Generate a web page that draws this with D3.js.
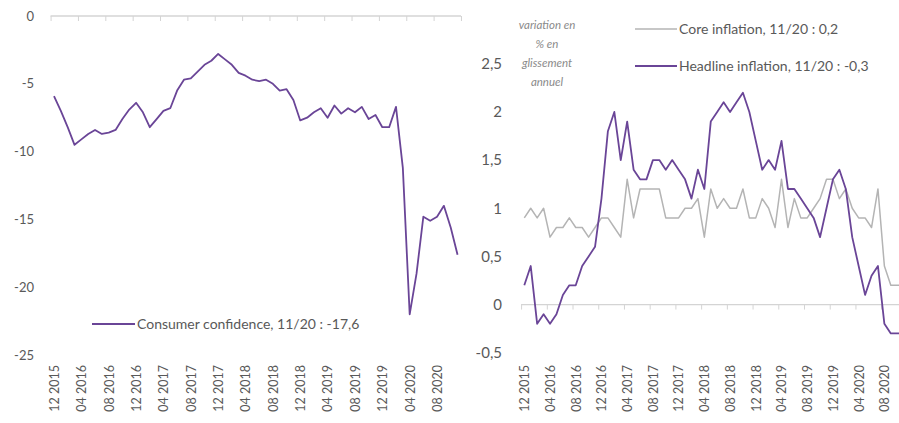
<!DOCTYPE html>
<html><head><meta charset="utf-8">
<script src="https://cdn.jsdelivr.net/npm/d3@7"></script>
<style>
html,body{margin:0;padding:0;background:#fff;}
svg{display:block;font-family:Lato,"Open Sans",sans-serif;}
</style></head>
<body><svg id="c" width="899" height="423"></svg>
<script>
// ---- data ----
const tickLabels = ["12 2015","04 2016","08 2016","12 2016","04 2017","08 2017","12 2017","04 2018","08 2018","12 2018","04 2019","08 2019","12 2019","04 2020","08 2020"];
const confidence = [-5.9,-7.0,-8.2,-9.5,-9.1,-8.7,-8.4,-8.7,-8.6,-8.4,-7.6,-6.9,
  -6.4,-7.1,-8.2,-7.6,-7.0,-6.8,-5.5,-4.7,-4.6,-4.1,-3.6,-3.3,
  -2.8,-3.2,-3.6,-4.2,-4.4,-4.7,-4.8,-4.7,-5.0,-5.5,-5.4,-6.2,
  -7.7,-7.5,-7.1,-6.8,-7.5,-6.6,-7.2,-6.8,-7.1,-6.7,-7.6,-7.3,
  -8.2,-8.2,-6.7,-11.2,-22.0,-19.0,-14.8,-15.1,-14.8,-14.0,-15.6,-17.6];
const headline = [0.2,0.4,-0.2,-0.1,-0.2,-0.1,0.1,0.2,0.2,0.4,0.5,0.6,
  1.1,1.8,2.0,1.5,1.9,1.4,1.3,1.3,1.5,1.5,1.4,1.5,
  1.4,1.3,1.1,1.4,1.2,1.9,2.0,2.1,2.0,2.1,2.2,2.0,
  1.7,1.4,1.5,1.4,1.7,1.2,1.2,1.1,1.0,0.9,0.7,1.0,
  1.3,1.4,1.2,0.7,0.4,0.1,0.3,0.4,-0.2,-0.3,-0.3,-0.3];
const core = [0.9,1.0,0.9,1.0,0.7,0.8,0.8,0.9,0.8,0.8,0.7,0.8,
  0.9,0.9,0.8,0.7,1.3,0.9,1.2,1.2,1.2,1.2,0.9,0.9,
  0.9,1.0,1.0,1.1,0.7,1.2,1.0,1.1,1.0,1.0,1.2,0.9,
  0.9,1.1,1.0,0.8,1.3,0.8,1.1,0.9,0.9,1.0,1.1,1.3,
  1.3,1.1,1.2,1.0,0.9,0.9,0.8,1.2,0.4,0.2,0.2,0.2];
const leftTicks = [0,-5,-10,-15,-20,-25];
const rightTicks = [2.5,2,1.5,1,0.5,0,-0.5];
const legendLeft = "Consumer confidence, 11/20 : -17,6";
const legendCore = "Core inflation, 11/20 : 0,2";
const legendHead = "Headline inflation, 11/20 : -0,3";
const noteLines = ["variation en","% en","glissement","annuel"];

// ---- styles ----
const PURPLE = "#6a4597", GREY_LINE = "#b4b4b4", AXIS = "#d4d4d4", TXT = "#595959";
const loc = d3.formatLocale({decimal:",",thousands:" ",grouping:[3],currency:["","€"],minus:"-"});
const fmt = v => loc.format("")(v);

const svg = d3.select("#c");
const catTicks = d3.range(0,60,4);

function drawChart(opts){
  const {x, y, yTicks, yLabelX, yFont, series} = opts;
  const g = svg.append("g");
  const ya = g.append("g").attr("transform",`translate(${yLabelX},0)`)
    .call(d3.axisLeft(y).tickValues(yTicks).tickSize(0).tickPadding(0).tickFormat(fmt));
  ya.select(".domain").remove();
  ya.selectAll("text").attr("fill",TXT).style("font-size",yFont+"px").style("font-family","Lato,sans-serif");
  const xa = g.append("g").attr("transform",`translate(0,${y(0)})`)
    .call(d3.axisBottom(x).tickValues(d3.range(-0.5,60,4).concat([59.5])).tickSize(5).tickSizeOuter(0).tickFormat(""));
  xa.select(".domain").attr("stroke",AXIS).attr("stroke-width",1.3).attr("d",`M${x(-0.5)},0H${x(59.5)}`);
  xa.selectAll(".tick line").attr("stroke",AXIS).attr("stroke-width",1);
  const la = g.append("g").attr("transform",`translate(0,365)`)
    .call(d3.axisBottom(x).tickValues(catTicks).tickSize(0).tickFormat(i=>tickLabels[i/4]));
  la.select(".domain").remove();
  la.selectAll("text").attr("fill",TXT).style("font-size","12.5px").style("font-family","Lato,sans-serif")
    .attr("transform","rotate(-90)").attr("text-anchor","end").attr("x",0).attr("y",0).attr("dy","0.35em");
  series.forEach(s=>{
    g.append("path").datum(s.values)
      .attr("fill","none").attr("stroke",s.color).attr("stroke-width",s.width)
      .attr("stroke-linejoin","round")
      .attr("d",d3.line().x((d,i)=>x(i)).y(d=>y(d)));
  });
  return g;
}

const xL = d3.scaleLinear().domain([0,59]).range([54,54+59*6.84]);
const yL = d3.scaleLinear().domain([-25,0]).range([355,16]);
drawChart({x:xL,y:yL,yTicks:leftTicks,yLabelX:34,yFont:13,
  series:[{values:confidence,color:PURPLE,width:1.8}]});

const xR = d3.scaleLinear().domain([0,59]).range([524.3,524.3+59*6.43]);
const yR = d3.scaleLinear().domain([-0.5,2.5]).range([352.7,63.8]);
drawChart({x:xR,y:yR,yTicks:rightTicks,yLabelX:502,yFont:15,
  series:[{values:core,color:GREY_LINE,width:1.5},{values:headline,color:PURPLE,width:1.8}]});

function legend(x1,x2,yy,color,w,text){
  svg.append("line").attr("x1",x1).attr("x2",x2).attr("y1",yy).attr("y2",yy).attr("stroke",color).attr("stroke-width",w);
  svg.append("text").attr("x",x2+2).attr("y",yy).attr("dy","0.35em").attr("fill",TXT)
    .style("font-size","14px").text(text);
}
legend(92,135,324,PURPLE,1.8,legendLeft);
legend(635,677,29,GREY_LINE,1.5,legendCore);
legend(635,677,66,PURPLE,1.8,legendHead);

svg.append("g").selectAll("text").data(noteLines).join("text")
  .attr("x",547).attr("y",(d,i)=>25+i*19).attr("dy","0.35em").attr("text-anchor","middle")
  .attr("fill","#8a8a8a").style("font-size","11.5px").style("font-style","italic").text(d=>d);
</script></body></html>
